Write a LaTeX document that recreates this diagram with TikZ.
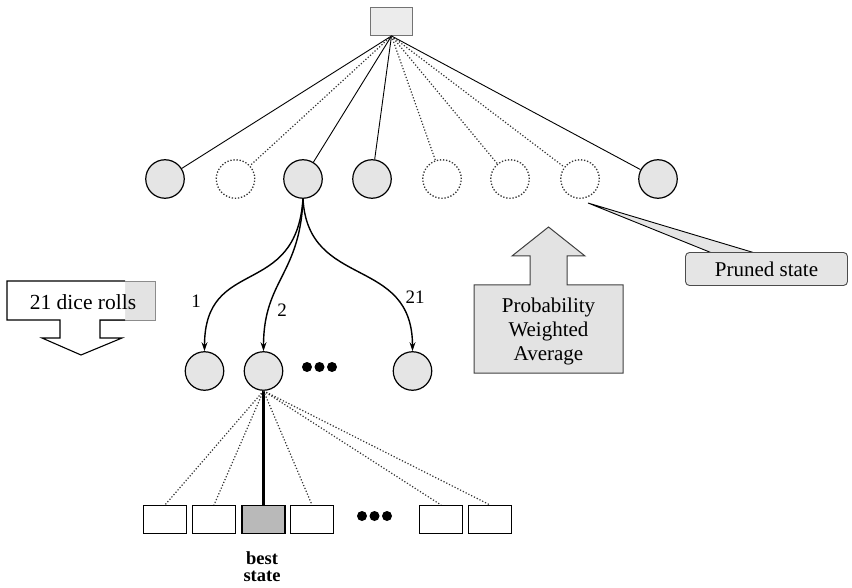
\documentclass[tikz,border=0pt]{standalone}
\usepackage{fontspec}
\setmainfont{Liberation Serif}
\usetikzlibrary{arrows.meta}
\begin{document}
\begin{tikzpicture}[x=1pt,y=-1pt,
  state/.style={circle,draw=black,line width=1.2pt,fill=gray!20,minimum size=38.5pt,inner sep=0pt},
  pruned/.style={circle,draw=black!80,line width=1.3pt,dash pattern=on 1.3pt off 1.8pt,minimum size=38.5pt,inner sep=0pt},
  leaf/.style={rectangle,draw=black,line width=1.1pt,fill=white,minimum width=43pt,minimum height=28pt,inner sep=0pt},
  tedge/.style={draw=black,line width=0.9pt},
  pedge/.style={draw=black!80,line width=1.2pt,dash pattern=on 1.2pt off 1.9pt},
  roll/.style={draw=black,line width=1.4pt,-{Stealth[length=9pt,width=6pt]}},
  lbl/.style={font=\fontsize{19}{19}\selectfont,inner sep=0pt},
  bigtxt/.style={font=\fontsize{21}{24}\selectfont,inner sep=0pt,align=center},
  dotmark/.style={circle,fill=black,minimum size=10pt,inner sep=0pt},
]
\useasboundingbox (0,0) rectangle (852,588);

% root
\node[draw=black!55,fill=gray!15,line width=0.9pt,minimum width=42pt,minimum height=28pt,inner sep=0pt] (root) at (391.5,21.5) {};

% first level
\node[state]  (c1) at (165,179) {};
\node[pruned] (c2) at (235.5,179) {};
\node[state]  (c3) at (303,179) {};
\node[state]  (c4) at (372,179) {};
\node[pruned] (c5) at (442,179) {};
\node[pruned] (c6) at (510,179) {};
\node[pruned] (c7) at (580,179) {};
\node[state]  (c8) at (658,179) {};

\draw[tedge] (root.south) -- (c1);
\draw[pedge] (root.south) -- (c2);
\draw[tedge] (root.south) -- (c3);
\draw[tedge] (root.south) -- (c4);
\draw[pedge] (root.south) -- (c5);
\draw[pedge] (root.south) -- (c6);
\draw[pedge] (root.south) -- (c7);
\draw[tedge] (root.south) -- (c8);

% dice level
\node[state] (ma) at (204.5,371) {};
\node[state] (mb) at (263.5,371) {};
\node[state] (mc) at (412.5,371) {};
\node[dotmark] (md1) at (307,367) {};
\node[dotmark] (md2) at (319.5,367) {};
\node[dotmark] (md3) at (332,367) {};

\draw[roll] (c3.south) .. controls (296,300) and (204.5,255) .. (ma.north);
\draw[roll] (c3.south) .. controls (300,275) and (263.5,280) .. (mb.north);
\draw[roll] (c3.south) .. controls (308,290) and (412.5,255) .. (mc.north);
\node[lbl] (l1) at (196,301) {1};
\node[lbl] (l2) at (282,310) {2};
\node[lbl] (l21) at (415,297) {21};

% leaves
\node[leaf] (r1) at (165,519.5) {};
\node[leaf] (r2) at (214,519.5) {};
\node[leaf,fill=gray!55] (r3) at (263.5,519.5) {};
\node[leaf] (r4) at (312,519.5) {};
\node[leaf] (r5) at (441,519.5) {};
\node[leaf] (r6) at (490,519.5) {};
\node[dotmark] (bd1) at (362,516) {};
\node[dotmark] (bd2) at (374.5,516) {};
\node[dotmark] (bd3) at (387,516) {};

\draw[pedge] (mb.south) -- (r1.north);
\draw[pedge] (mb.south) -- (r2.north);
\draw[draw=black,line width=2.6pt] (mb.south) -- (r3.north);
\draw[pedge] (mb.south) -- (r4.north);
\draw[pedge] (mb.south) -- (r5.north);
\draw[pedge] (mb.south) -- (r6.north);

\node[font=\bfseries\fontsize{18.5}{17}\selectfont,align=center,inner sep=0pt] (best) at (262,567) {best\\state};

% 21 dice rolls arrow
\draw[fill=gray!22,draw=black!45,line width=0.9pt] (100,281) rectangle (155,320);
\fill[white] (7,281) -- (125,281) -- (125,320) -- (100,320) -- (100,338) -- (122,338) -- (81,355) -- (42,338) -- (60,338) -- (60,320) -- (7,320) -- cycle;
\draw[black,line width=1.1pt] (125,281) -- (7,281) -- (7,320) -- (60,320) -- (60,338) -- (42,338) -- (81,355) -- (122,338) -- (100,338) -- (100,320) -- (125,320);
\node[font=\fontsize{21.5}{24}\selectfont,inner sep=0pt] (dice) at (83,302) {21 dice rolls};

% probability weighted average arrow
\draw[fill=gray!22,draw=black!75,line width=1pt] (474,285) -- (530,285) -- (530,256) -- (512,256) -- (548.5,227) -- (585,256) -- (567,256) -- (567,285) -- (623,285) -- (623,373) -- (474,373) -- cycle;
\node[bigtxt] (pwa) at (548.5,331) {Probability\\Weighted\\Average};

% pruned state callout
\coordinate (ptip) at (588,203);
\coordinate (pa) at (712,253);
\coordinate (pb2) at (755,253);
\fill[gray!20] (ptip) -- (pa) -- (pb2) -- cycle;
\draw[black,line width=0.9pt] (pa) -- (ptip) -- (pb2);
\node[draw=black!70,fill=gray!20,line width=0.9pt,rounded corners=4pt,minimum width=162pt,minimum height=33pt,inner sep=0pt,font=\fontsize{21}{24}\selectfont] (pbox) at (766.5,269) {Pruned state};
\end{tikzpicture}
\end{document}
